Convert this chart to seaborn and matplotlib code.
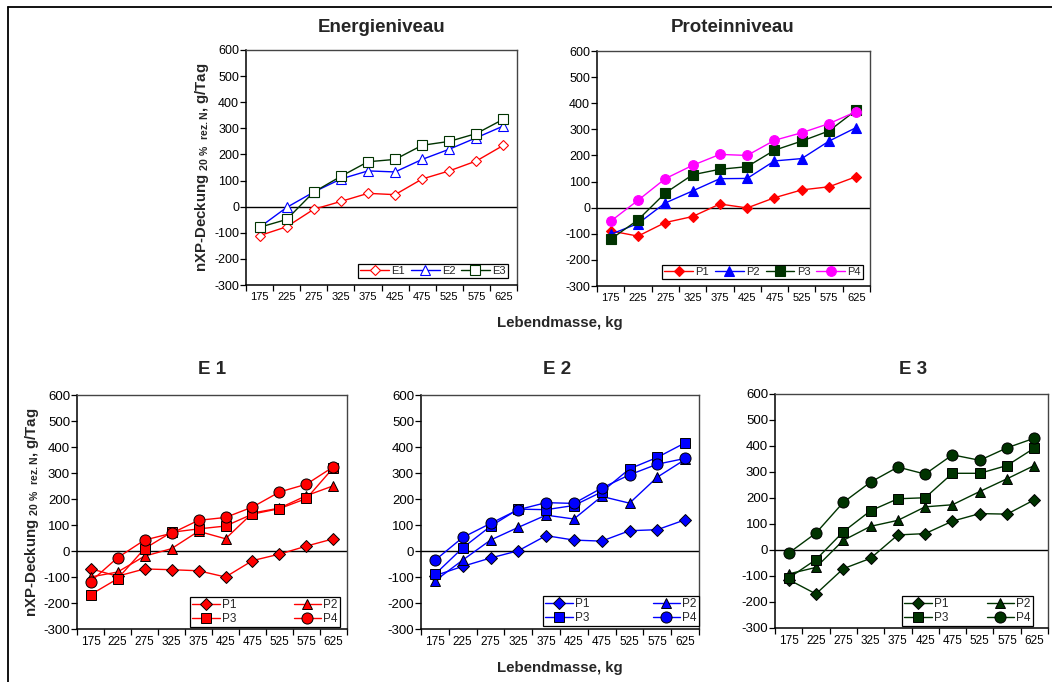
import matplotlib
matplotlib.use('Agg')
import matplotlib.pyplot as plt
import seaborn as sns
import pandas as pd
import numpy as np
from matplotlib.lines import Line2D
from matplotlib.ticker import FixedLocator, NullFormatter, FixedFormatter

sns.set_theme(style='white')
plt.rcParams['font.family'] = ['Liberation Sans', 'DejaVu Sans']
plt.rcParams['mathtext.fontset'] = 'custom'
plt.rcParams['mathtext.rm'] = 'Liberation Sans:bold'
plt.rcParams['mathtext.it'] = 'Liberation Sans:bold'
plt.rcParams['mathtext.bf'] = 'Liberation Sans:bold'

# ---------------- data ----------------
masses = [175, 225, 275, 325, 375, 425, 475, 525, 575, 625]
mass_labels = [str(m) for m in masses]
y_ticks = [-300, -200, -100, 0, 100, 200, 300, 400, 500, 600]

energy_names = ['E1', 'E2', 'E3']
energy_E1 = [-111, -77, -10, 20, 51, 46, 106, 137, 175, 235]
energy_E2 = [-79, -3, 56, 106, 137, 133, 181, 220, 264, 309]
energy_E3 = [-79, -49, 56, 116, 172, 181, 235, 250, 280, 335]

protein_names = ['P1', 'P2', 'P3', 'P4']
protein_P1 = [-89, -109, -57, -34, 14, -1, 38, 68, 80, 119]
protein_P2 = [-102, -61, 18, 64, 111, 112, 179, 188, 255, 307]
protein_P3 = [-121, -47, 56, 126, 147, 157, 220, 255, 294, 374]
protein_P4 = [-52, 28, 111, 162, 204, 200, 258, 287, 322, 368]

e1_P1 = [-68, -97, -69, -72, -76, -100, -37, -12, 19, 47]
e1_P2 = [-100, -81, -20, 9, 76, 47, 146, 165, 213, 251]
e1_P3 = [-168, -107, 9, 72, 85, 96, 142, 163, 202, 321]
e1_P4 = [-118, -26, 42, 68, 118, 129, 169, 227, 257, 324]

e2_P1 = [-95, -59, -27, 1, 59, 42, 38, 78, 82, 120]
e2_P2 = [-115, -35, 42, 91, 138, 123, 210, 184, 284, 352]
e2_P3 = [-90, 12, 95, 161, 159, 175, 227, 316, 360, 416]
e2_P4 = [-36, 52, 106, 159, 186, 183, 242, 293, 334, 356]

e3_P1 = [-114, -169, -72, -32, 58, 63, 111, 140, 138, 193]
e3_P2 = [-92, -67, 37, 91, 114, 166, 174, 225, 274, 325]
e3_P3 = [-108, -37, 70, 151, 197, 201, 295, 295, 325, 392]
e3_P4 = [-12, 65, 183, 261, 319, 292, 366, 345, 393, 430]

RED = '#FF0000'
BLUE = '#0000FF'
GREEN = '#003300'
MAGENTA = '#FF00FF'

W, H = 1052, 682
fig = plt.figure(figsize=(W / 100, H / 100), dpi=100)


def axes_px(left, right, top, bottom):
    return fig.add_axes([left / W, 1 - bottom / H, (right - left) / W, (bottom - top) / H])


def style_axes(ax, xsize, ysize):
    ax.set_xlim(150, 650)
    ax.set_ylim(-300, 600)
    ax.set_yticks(y_ticks)
    ax.set_yticklabels([str(v) for v in y_ticks])
    ax.xaxis.set_major_locator(FixedLocator(np.arange(150, 651, 50)))
    ax.xaxis.set_major_formatter(NullFormatter())
    ax.xaxis.set_minor_locator(FixedLocator(masses))
    ax.xaxis.set_minor_formatter(FixedFormatter(mass_labels))
    ax.tick_params(axis='x', which='major', bottom=True, direction='out', length=4,
                   width=0.9, color='black')
    ax.tick_params(axis='x', which='minor', bottom=True, length=0, labelsize=xsize,
                   pad=5, labelcolor='black')
    ax.tick_params(axis='y', which='major', left=True, direction='out', length=4,
                   width=0.9, color='black', labelsize=ysize, pad=1.0, labelcolor='black')
    for s in ['left', 'bottom']:
        ax.spines[s].set_color('black')
        ax.spines[s].set_linewidth(1.1)
    for s in ['top', 'right']:
        ax.spines[s].set_color('#444444')
        ax.spines[s].set_linewidth(1.0)
    ax.axhline(0, color='black', linewidth=1.0, zorder=1)
    ax.set_xlabel('')
    ax.set_ylabel('')
    ax.grid(False)


def draw_series(ax, values, name, color, marker, face, edge, msize, mew=0.8):
    df = pd.DataFrame({'Lebendmasse': masses, 'Wert': values})
    sns.lineplot(data=df, x='Lebendmasse', y='Wert', ax=ax, color=color, marker=marker,
                 markersize=msize, markerfacecolor=face, markeredgecolor=edge,
                 markeredgewidth=mew, linewidth=1.0, label=name, zorder=3)


def add_legend(ax, ncol, bbox, order=None, fontsize=8, handlelength=2.6, expand=False):
    handles, labels = ax.get_legend_handles_labels()
    if order is not None:
        handles = [handles[i] for i in order]
        labels = [labels[i] for i in order]
    leg = ax.legend(handles, labels, ncol=ncol, loc='lower left', bbox_to_anchor=bbox,
                    bbox_transform=fig.transFigure, mode='expand' if expand else None,
                    borderaxespad=0, frameon=True, fancybox=False, framealpha=1,
                    edgecolor='black', fontsize=fontsize, handlelength=handlelength,
                    handletextpad=0.2, borderpad=0.2, labelspacing=0.1,
                    columnspacing=1.0)
    leg.get_frame().set_linewidth(0.9)


def fig_box(left, right, top, bottom):
    return (left / W, 1 - bottom / H, (right - left) / W, (bottom - top) / H)


ylabel = r'nXP-Deckung $_{\mathrm{20\ \%\ \ rez.N}}$, g/Tag'

# ---------------- top left: Energieniveau ----------------
ax1 = axes_px(246, 517, 50, 285)
draw_series(ax1, energy_E1, 'E1', RED, 'D', 'white', RED, 5.5)
draw_series(ax1, energy_E2, 'E2', BLUE, '^', 'white', BLUE, 7)
draw_series(ax1, energy_E3, 'E3', GREEN, 's', 'white', GREEN, 6.5)
style_axes(ax1, 8, 9)
add_legend(ax1, 3, fig_box(358, 508, 262, 278), expand=True)
ax1.set_ylabel(ylabel, fontsize=10.8, fontweight='bold', labelpad=2)
fig.text(382 / W, 1 - 28 / H, 'Energieniveau', ha='center', va='center',
         fontsize=13.5, fontweight='bold')

# ---------------- top right: Proteinniveau ----------------
ax2 = axes_px(597, 870, 51, 286)
draw_series(ax2, protein_P1, 'P1', RED, 'D', RED, RED, 5.5)
draw_series(ax2, protein_P2, 'P2', BLUE, '^', BLUE, BLUE, 7)
draw_series(ax2, protein_P3, 'P3', GREEN, 's', GREEN, GREEN, 6.5)
draw_series(ax2, protein_P4, 'P4', MAGENTA, 'o', MAGENTA, MAGENTA, 7)
style_axes(ax2, 8, 9)
add_legend(ax2, 4, fig_box(662, 863, 262, 279), expand=True)
fig.text(733 / W, 1 - 28 / H, 'Proteinniveau', ha='center', va='center',
         fontsize=13.5, fontweight='bold')

fig.text(560 / W, 1 - 323 / H, 'Lebendmasse, kg', ha='center', va='center',
         fontsize=10.8, fontweight='bold')

# ---------------- bottom panels ----------------
bottom_specs = [
    ((77, 347, 395, 629), RED, [e1_P1, e1_P2, e1_P3, e1_P4], 'E 1', 212, (190, 340, 598, 627)),
    ((421, 699, 395, 629), BLUE, [e2_P1, e2_P2, e2_P3, e2_P4], 'E 2', 557, (543, 699, 597, 626)),
    ((775, 1048, 394, 628), GREEN, [e3_P1, e3_P2, e3_P3, e3_P4], 'E 3', 913, (902, 1033, 598, 626)),
]
markers4 = ['D', '^', 's', 'o']
sizes4 = [6, 7, 7, 8]
for (l, r, t, b), col, series, title, tx, lbox in bottom_specs:
    ax = axes_px(l, r, t, b)
    for vals, name, m, ms in zip(series, protein_names, markers4, sizes4):
        draw_series(ax, vals, name, col, m, col, 'black', ms, mew=0.7)
    style_axes(ax, 8.5, 9.5)
    add_legend(ax, 2, fig_box(*lbox), order=[0, 2, 1, 3], fontsize=8.5,
               handlelength=2.3, expand=True)
    fig.text(tx / W, 1 - 369 / H, title, ha='center', va='center',
             fontsize=13.5, fontweight='bold')
    if title == 'E 1':
        ax.set_ylabel(ylabel, fontsize=10.8, fontweight='bold', labelpad=2)

fig.text(560 / W, 1 - 668 / H, 'Lebendmasse, kg', ha='center', va='center',
         fontsize=10.8, fontweight='bold')

# outer frame (top and left edges visible)
fig.add_artist(Line2D([8 / W, 1.0], [1 - 7 / H, 1 - 7 / H], transform=fig.transFigure,
                      color='black', linewidth=1.3))
fig.add_artist(Line2D([8 / W, 8 / W], [0.0, 1 - 7 / H], transform=fig.transFigure,
                      color='black', linewidth=1.3))

fig.savefig('out.png', dpi=100)
